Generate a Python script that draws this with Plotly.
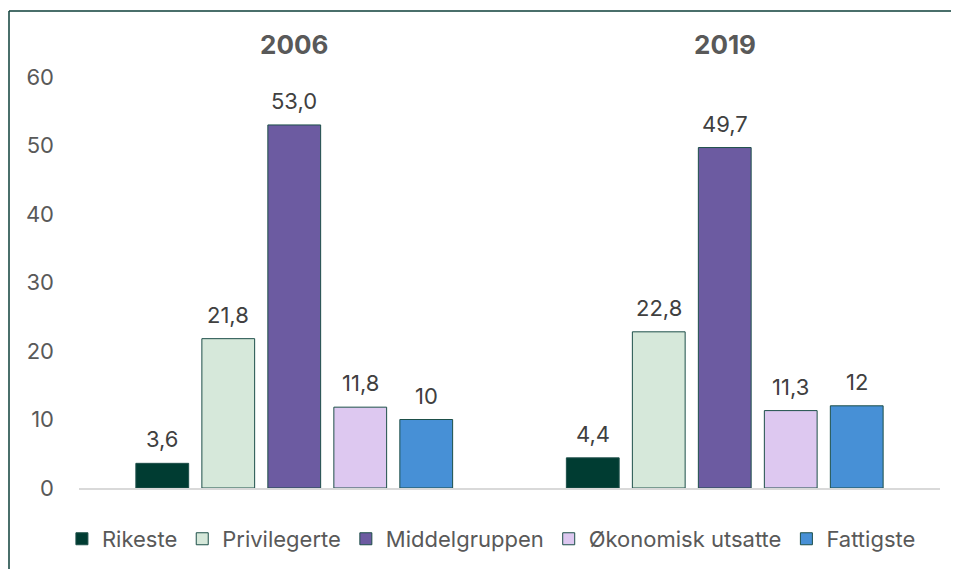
import plotly.graph_objects as go

years = ["2006", "2019"]
groups = ["Rikeste", "Privilegerte", "Middelgruppen", "Økonomisk utsatte", "Fattigste"]
values = {
    "Rikeste": [3.6, 4.4],
    "Privilegerte": [21.8, 22.8],
    "Middelgruppen": [53.0, 49.7],
    "Økonomisk utsatte": [11.8, 11.3],
    "Fattigste": [10, 12],
}
labels = {
    "Rikeste": ["3,6", "4,4"],
    "Privilegerte": ["21,8", "22,8"],
    "Middelgruppen": ["53,0", "49,7"],
    "Økonomisk utsatte": ["11,8", "11,3"],
    "Fattigste": ["10", "12"],
}
colors = ["#003C32", "#D6E8DA", "#6C5BA1", "#DDC8F0", "#4790D6"]
y_ticks = [0, 10, 20, 30, 40, 50, 60]

FONT = "Inter"
BARGAP = 0.2335
BARGROUPGAP = 0.2

fig = go.Figure()
for g, c in zip(groups, colors):
    fig.add_trace(go.Bar(
        name=g, x=years, y=values[g],
        marker=dict(color=c, line=dict(color="#1D4F49", width=1)),
        hoverinfo="skip",
    ))

# data labels positioned from the grouped-bar geometry
n = len(groups)
slot = (1 - BARGAP) / n
annotations = []
for j, g in enumerate(groups):
    for i, yr in enumerate(years):
        annotations.append(dict(
            x=i + (j - (n - 1) / 2) * slot, y=values[g][i], xref="x", yref="y",
            text=labels[g][i], showarrow=False, yanchor="bottom", yshift=9,
            font=dict(family=FONT, size=22, color="#404040"),
        ))
for i, yr in enumerate(years):
    annotations.append(dict(
        x=i, y=1.078, xref="x", yref="paper", text="<b>%s</b>" % yr,
        showarrow=False, yanchor="middle",
        font=dict(family=FONT, size=26, color="#595959"),
    ))

fig.update_layout(
    width=959, height=569,
    margin=dict(l=71, r=27, t=69, b=89),
    paper_bgcolor="white", plot_bgcolor="white",
    barmode="group", bargap=BARGAP, bargroupgap=BARGROUPGAP,
    font=dict(family=FONT, color="#595959"),
    showlegend=True,
    legend=dict(orientation="h", x=0.479, xanchor="center", y=-0.124, yanchor="middle",
                font=dict(family=FONT, size=22, color="#595959"),
                itemwidth=30, traceorder="normal"),
    annotations=annotations,
    xaxis=dict(type="category", range=[-0.5, len(years) - 0.5], autorange=False,
               showticklabels=False, showgrid=False, zeroline=False,
               showline=True, linecolor="#D9D9D9", linewidth=1.5, ticks=""),
    yaxis=dict(range=[0, 60], autorange=False, tickvals=y_ticks, showgrid=False, zeroline=False,
               showline=False, ticks="", ticklabelstandoff=24,
               tickfont=dict(family=FONT, size=22, color="#595959")),
    shapes=[
        dict(type="line", xref="paper", yref="paper", x0=-0.0813, x1=1.1, y0=1.1606, y1=1.1606,
             line=dict(color="#0E3F3A", width=1.5)),
        dict(type="line", xref="paper", yref="paper", x0=-0.0813, x1=-0.0813, y0=1.1606, y1=-0.3,
             line=dict(color="#0E3F3A", width=1.5)),
    ],
)

fig.write_html("out.html")
